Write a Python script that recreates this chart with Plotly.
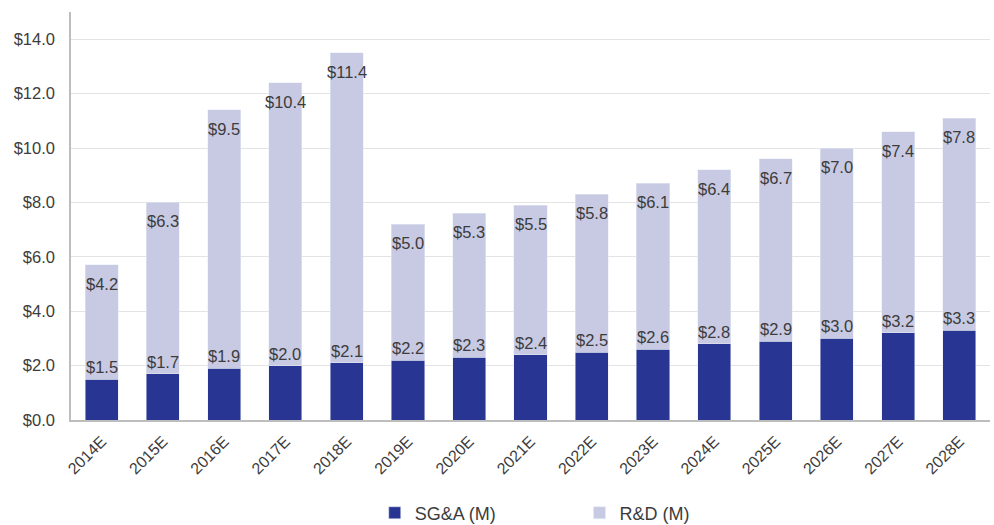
import plotly.graph_objects as go

years = ["2014E", "2015E", "2016E", "2017E", "2018E", "2019E", "2020E", "2021E",
         "2022E", "2023E", "2024E", "2025E", "2026E", "2027E", "2028E"]
sga = [1.5, 1.7, 1.9, 2.0, 2.1, 2.2, 2.3, 2.4, 2.5, 2.6, 2.8, 2.9, 3.0, 3.2, 3.3]
rnd = [4.2, 6.3, 9.5, 10.4, 11.4, 5.0, 5.3, 5.5, 5.8, 6.1, 6.4, 6.7, 7.0, 7.4, 7.8]
y_ticks = [0, 2, 4, 6, 8, 10, 12, 14]

DARK = "#283593"
LIGHT = "#c8cae3"
TEXT = "#3c3c3c"
FONT = "Liberation Sans, Arial, sans-serif"

fig = go.Figure()
fig.add_trace(go.Bar(x=years, y=sga, name="SG&A (M)", marker_color=DARK,
                     legend="legend"))
fig.add_trace(go.Bar(x=years, y=rnd, name="R&D (M)", marker_color=LIGHT,
                     legend="legend2"))

# value labels: SG&A just above its segment, R&D just inside the top of the stack
annotations = []
for yr, s, r in zip(years, sga, rnd):
    annotations.append(dict(x=yr, y=s, text=f"${s:.1f}", showarrow=False,
                            yanchor="middle", yshift=12,
                            font=dict(size=16.5, color=TEXT, family=FONT)))
    annotations.append(dict(x=yr, y=s + r, text=f"${r:.1f}", showarrow=False,
                            yanchor="middle", yshift=-19,
                            font=dict(size=16.5, color=TEXT, family=FONT)))

legend_common = dict(orientation="h", xref="container", yref="container",
                     y=0.058, xanchor="left", yanchor="top",
                     font=dict(size=18, color=TEXT), itemwidth=30,
                     bgcolor="rgba(0,0,0,0)")

fig.update_layout(
    width=994, height=525,
    barmode="stack", bargap=0.46,
    plot_bgcolor="white", paper_bgcolor="white",
    margin=dict(l=71, r=4, t=12, b=105),
    font=dict(family=FONT, size=16, color=TEXT),
    annotations=annotations,
    showlegend=True,
    legend=dict(x=0.377, **legend_common),
    legend2=dict(x=0.583, **legend_common),
)
fig.update_xaxes(tickangle=-45, showline=True, linecolor="#bdbdbd", linewidth=1.5,
                 tickfont=dict(size=16, color=TEXT), showgrid=False,
                 ticklabelstandoff=4)
fig.update_yaxes(range=[0, 15], tickvals=y_ticks,
                 ticktext=[f"${v:.1f}" for v in y_ticks],
                 showline=True, linecolor="#bdbdbd", linewidth=1.5,
                 gridcolor="#e3e3e3", gridwidth=1, zeroline=False,
                 ticklabelstandoff=11, tickfont=dict(size=16.5, color=TEXT))

fig.write_html("out.html")
